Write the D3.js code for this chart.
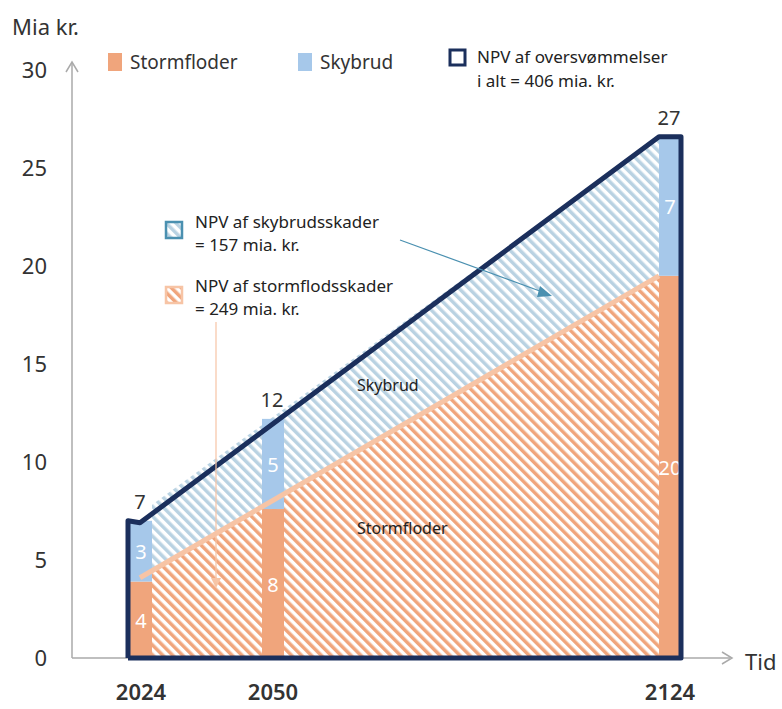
<!DOCTYPE html>
<html><head><meta charset="utf-8">
<script src="https://cdn.jsdelivr.net/npm/d3@7"></script>
<style>body{margin:0;background:#fff}text{font-family:"Noto Sans",sans-serif}</style>
</head><body><div id="chart"></div>
<script>
var years = [2024, 2050, 2124]
var storm = [3.9, 7.6, 19.5]
var sky = [3.1, 4.6, 7.1]
var stormLabels = ["4", "8", "20"]
var skyLabels = ["3", "5", "7"]
var totalLabels = ["7", "12", "27"]
var yTicks = [0, 5, 10, 15, 20, 25, 30]

var navy = "#1b2f5c", orange = "#f0a57c", blue = "#a6c8ea", lightOrange = "#f7c4a5"

var svg = d3.select("#chart").append("svg").attr("width", 782).attr("height", 709)
var defs = svg.append("defs")
function hatch(id, bg, fg) {
    var p = defs.append("pattern").attr("id", id).attr("patternUnits", "userSpaceOnUse")
        .attr("width", 7).attr("height", 7).attr("patternTransform", "rotate(-45)")
    p.append("rect").attr("width", 7).attr("height", 7).attr("fill", bg)
    p.append("rect").attr("width", 3.5).attr("height", 7).attr("fill", fg)
}
hatch("hStorm", "#fff", orange)
hatch("hSky", "#fff", "#b9d2e2")

var y = d3.scaleLinear().domain([0, 30]).range([658, 70])
var x = d3.scaleLinear().domain(years).range([141, 273, 670])
var bw = 22

// axes
svg.append("line").attr("x1", 72).attr("x2", 730).attr("y1", y(0)).attr("y2", y(0)).attr("stroke", "#aaa").attr("stroke-width", 1.5)
svg.append("path").attr("d", "M722,652 L732,658 L722,664").attr("fill", "none").attr("stroke", "#aaa").attr("stroke-width", 1.5)
svg.append("line").attr("x1", 72).attr("x2", 72).attr("y1", y(0)).attr("y2", 62).attr("stroke", "#aaa").attr("stroke-width", 1.5)
svg.append("path").attr("d", "M66,72 L72,62 L78,72").attr("fill", "none").attr("stroke", "#aaa").attr("stroke-width", 1.5)
svg.selectAll(".yt").data(yTicks).enter().append("text")
    .attr("x", 47).attr("y", function(d) { return y(d) + 8 }).attr("text-anchor", "end")
    .attr("font-size", 22).attr("fill", "#333").text(function(d) { return d })
svg.append("text").attr("x", 12).attr("y", 35).attr("font-size", 22).attr("fill", "#333").text("Mia kr.")
svg.append("text").attr("x", 745).attr("y", 670).attr("font-size", 22).attr("fill", "#333").text("Tid")
svg.selectAll(".xt").data(years).enter().append("text")
    .attr("x", function(d) { return x(d) }).attr("y", 700).attr("text-anchor", "middle")
    .attr("font-size", 22).attr("font-weight", 600).attr("fill", "#333").text(function(d) { return d })

// hatched areas between first and last bar
var n = years.length - 1
var xl = x(years[0]) + bw / 2, xr = x(years[n]) - bw / 2
function lerp(a, b, t) { return a + (b - a) * t }
var x0 = x(years[0]) - bw / 2, x1 = x(years[n]) - bw / 2
function atX(v0, v1, px) { return lerp(v0, v1, (px - x0) / (x1 - x0)) }
var tot0 = storm[0] + sky[0], totN = storm[n] + sky[n]
svg.append("path").attr("fill", "url(#hSky)")
    .attr("d", d3.line()([[xl, y(atX(tot0, totN, xl))], [xr, y(totN)], [xr, y(storm[n])], [xl, y(atX(storm[0], storm[n], xl))]]))
svg.append("path").attr("fill", "url(#hStorm)")
    .attr("d", d3.line()([[xl, y(atX(storm[0], storm[n], xl))], [xr, y(storm[n])], [xr, y(0)], [xl, y(0)]]))

// bars
var g = svg.selectAll(".bar").data(years).enter().append("g")
g.append("rect").attr("x", function(d) { return x(d) - bw / 2 }).attr("width", bw)
    .attr("y", function(d, i) { return y(storm[i]) }).attr("height", function(d, i) { return y(0) - y(storm[i]) }).attr("fill", orange)
g.append("rect").attr("x", function(d) { return x(d) - bw / 2 }).attr("width", bw)
    .attr("y", function(d, i) { return y(storm[i] + sky[i]) }).attr("height", function(d, i) { return y(0) - y(sky[i]) }).attr("fill", blue)
g.append("text").attr("x", function(d) { return x(d) }).attr("y", function(d, i) { return y(storm[i] / 2) + 8 })
    .attr("text-anchor", "middle").attr("font-size", 20).attr("fill", "#fff").text(function(d, i) { return stormLabels[i] })
g.append("text").attr("x", function(d) { return x(d) }).attr("y", function(d, i) { return y(storm[i] + sky[i] / 2) + 8 })
    .attr("text-anchor", "middle").attr("font-size", 20).attr("fill", "#fff").text(function(d, i) { return skyLabels[i] })
g.append("text").attr("x", function(d) { return x(d) - 1 }).attr("y", function(d, i) { return y(storm[i] + sky[i]) - 12 })
    .attr("text-anchor", "middle").attr("font-size", 20).attr("fill", "#333").text(function(d, i) { return totalLabels[i] })

// storm boundary line
svg.append("line").attr("x1", x0 + 10).attr("y1", y(atX(storm[0], storm[n], x0 + 10)) + 2).attr("x2", x1).attr("y2", y(storm[n]))
    .attr("stroke", lightOrange).attr("stroke-width", 5)

// outline
svg.append("path").attr("fill", "none").attr("stroke", navy).attr("stroke-width", 5).attr("stroke-linejoin", "round")
    .attr("d", d3.line()([[x0 - 2, y(0)], [x0 - 2, y(tot0)], [x0 + 10, y(tot0) + 2], [x1, y(totN)], [x(years[n]) + bw / 2, y(totN)], [x(years[n]) + bw / 2, y(0)], [x0 - 2, y(0)]]))

// area labels
svg.append("text").attr("x", 357).attr("y", 391).attr("font-size", 16).attr("fill", "#222").text("Skybrud")
svg.append("text").attr("x", 357).attr("y", 534).attr("font-size", 16).attr("fill", "#222").text("Stormfloder")

// annotations
svg.append("rect").attr("x", 166).attr("y", 222).attr("width", 16).attr("height", 16).attr("fill", "url(#hSky)").attr("stroke", "#4a90b0").attr("stroke-width", 2.5)
svg.append("text").attr("x", 195).attr("y", 228).attr("font-size", 17).attr("fill", "#222").text("NPV af skybrudsskader")
svg.append("text").attr("x", 195).attr("y", 251).attr("font-size", 17).attr("fill", "#222").text("= 157 mia. kr.")
svg.append("rect").attr("x", 166).attr("y", 287).attr("width", 16).attr("height", 16).attr("fill", "url(#hStorm)").attr("stroke", lightOrange).attr("stroke-width", 2.5)
svg.append("text").attr("x", 195).attr("y", 292).attr("font-size", 17).attr("fill", "#222").text("NPV af stormflodsskader")
svg.append("text").attr("x", 195).attr("y", 315).attr("font-size", 17).attr("fill", "#222").text("=  249 mia. kr.")
svg.append("line").attr("x1", 400).attr("y1", 240).attr("x2", 548).attr("y2", 294).attr("stroke", "#4a90b0").attr("stroke-width", 1.2)
svg.append("path").attr("d", "M540,286 L552,296 L537,297Z").attr("fill", "#4a90b0")
svg.append("line").attr("x1", 216).attr("y1", 322).attr("x2", 216).attr("y2", 582).attr("stroke", lightOrange).attr("stroke-width", 1.2)
svg.append("path").attr("d", "M211,578 L216,588 L221,578Z").attr("fill", lightOrange)

// legend
svg.append("rect").attr("x", 108).attr("y", 53).attr("width", 14).attr("height", 18).attr("fill", orange)
svg.append("text").attr("x", 130).attr("y", 69).attr("font-size", 19).attr("fill", "#333").text("Stormfloder")
svg.append("rect").attr("x", 298).attr("y", 53).attr("width", 14).attr("height", 18).attr("fill", blue)
svg.append("text").attr("x", 320).attr("y", 69).attr("font-size", 19).attr("fill", "#333").text("Skybrud")
svg.append("rect").attr("x", 450).attr("y", 50).attr("width", 15).attr("height", 15).attr("fill", "none").attr("stroke", navy).attr("stroke-width", 3)
svg.append("text").attr("x", 477).attr("y", 63).attr("font-size", 17).attr("fill", "#222").text("NPV af oversvømmelser")
svg.append("text").attr("x", 477).attr("y", 87).attr("font-size", 17).attr("fill", "#222").text("i alt = 406 mia. kr.")
</script></body></html>
